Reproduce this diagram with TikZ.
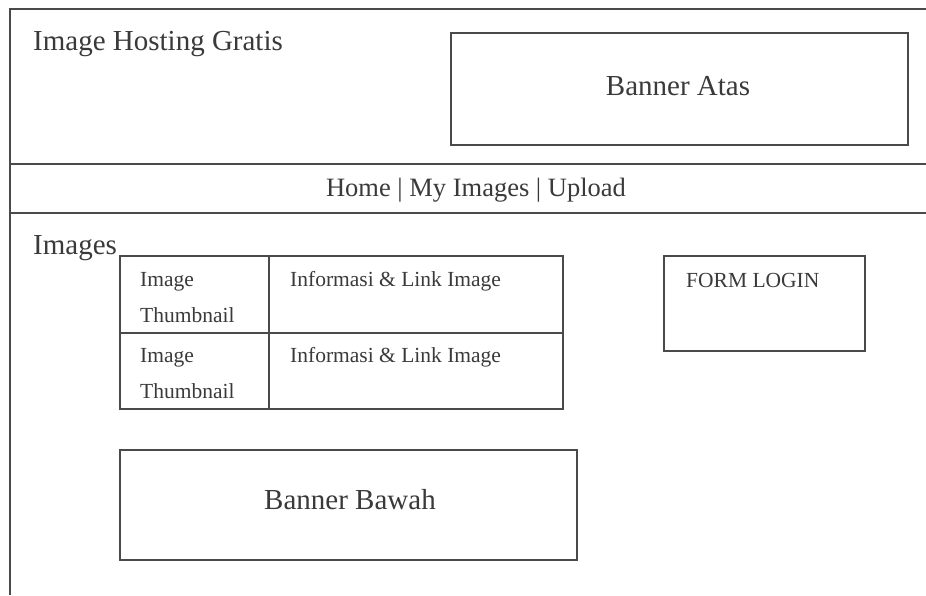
\documentclass[tikz,border=0pt]{standalone}
\usepackage{fontspec}
\setmainfont{Liberation Serif}
\definecolor{lc}{HTML}{4A4A4A}
\definecolor{tc}{HTML}{3A3A3A}
\begin{document}
\begin{tikzpicture}[x=1pt,y=-1pt,
  frame/.style={draw=lc, line width=1.8pt},
  box/.style={frame, rectangle, inner sep=0pt, outer sep=0pt, anchor=north west},
  big/.style={font=\fontsize{29}{32}\selectfont, text=tc, inner sep=0pt},
  mid/.style={font=\fontsize{26.5}{30}\selectfont, text=tc, inner sep=0pt},
  small/.style={font=\fontsize{21.5}{24}\selectfont, text=tc, inner sep=0pt}]
\useasboundingbox[fill=white] (0,0) rectangle (926,595);
% page frame and separators
\coordinate (tl) at (10,9);
\coordinate (tr) at (926,9);
\coordinate (bl) at (10,595);
\coordinate (h1l) at (10,164);
\coordinate (h1r) at (926,164);
\coordinate (h2l) at (10,213);
\coordinate (h2r) at (926,213);
\draw[frame] (bl) -- (tl) -- (tr);
\draw[frame] (h1l) -- (h1r);
\draw[frame] (h2l) -- (h2r);
% header
\node[big, anchor=base west] (title) at (33,50) {Image Hosting Gratis};
\node[box, minimum width=457pt, minimum height=112pt] (batas) at (451,33) {};
\node[big] (tbatas) at (678,86) {Banner Atas};
% menu
\node[mid] (menu) at (476,190) {Home | My Images | Upload};
% content
\node[big, anchor=base west] (images) at (33,254) {Images};
\node[box, minimum width=149pt, minimum height=77pt] (c11) at (120,256) {};
\node[box, minimum width=294pt, minimum height=77pt] (c12) at (269,256) {};
\node[box, minimum width=149pt, minimum height=76pt] (c21) at (120,333) {};
\node[box, minimum width=294pt, minimum height=76pt] (c22) at (269,333) {};
\node[small, anchor=base west] (t11a) at (140,286) {Image};
\node[small, anchor=base west] (t11b) at (140,322) {Thumbnail};
\node[small, anchor=base west] (t12) at (290,286) {Informasi \& Link Image};
\node[small, anchor=base west] (t21a) at (140,362) {Image};
\node[small, anchor=base west] (t21b) at (140,398) {Thumbnail};
\node[small, anchor=base west] (t22) at (290,362) {Informasi \& Link Image};
% login
\node[box, minimum width=201pt, minimum height=95pt] (login) at (664,256) {};
\node[small, anchor=base west] (tlogin) at (686,287) {FORM LOGIN};
% bottom banner
\node[box, minimum width=457pt, minimum height=110pt] (bbawah) at (120,450) {};
\node[big] (tbbawah) at (350,500) {Banner Bawah};
\end{tikzpicture}
\end{document}
